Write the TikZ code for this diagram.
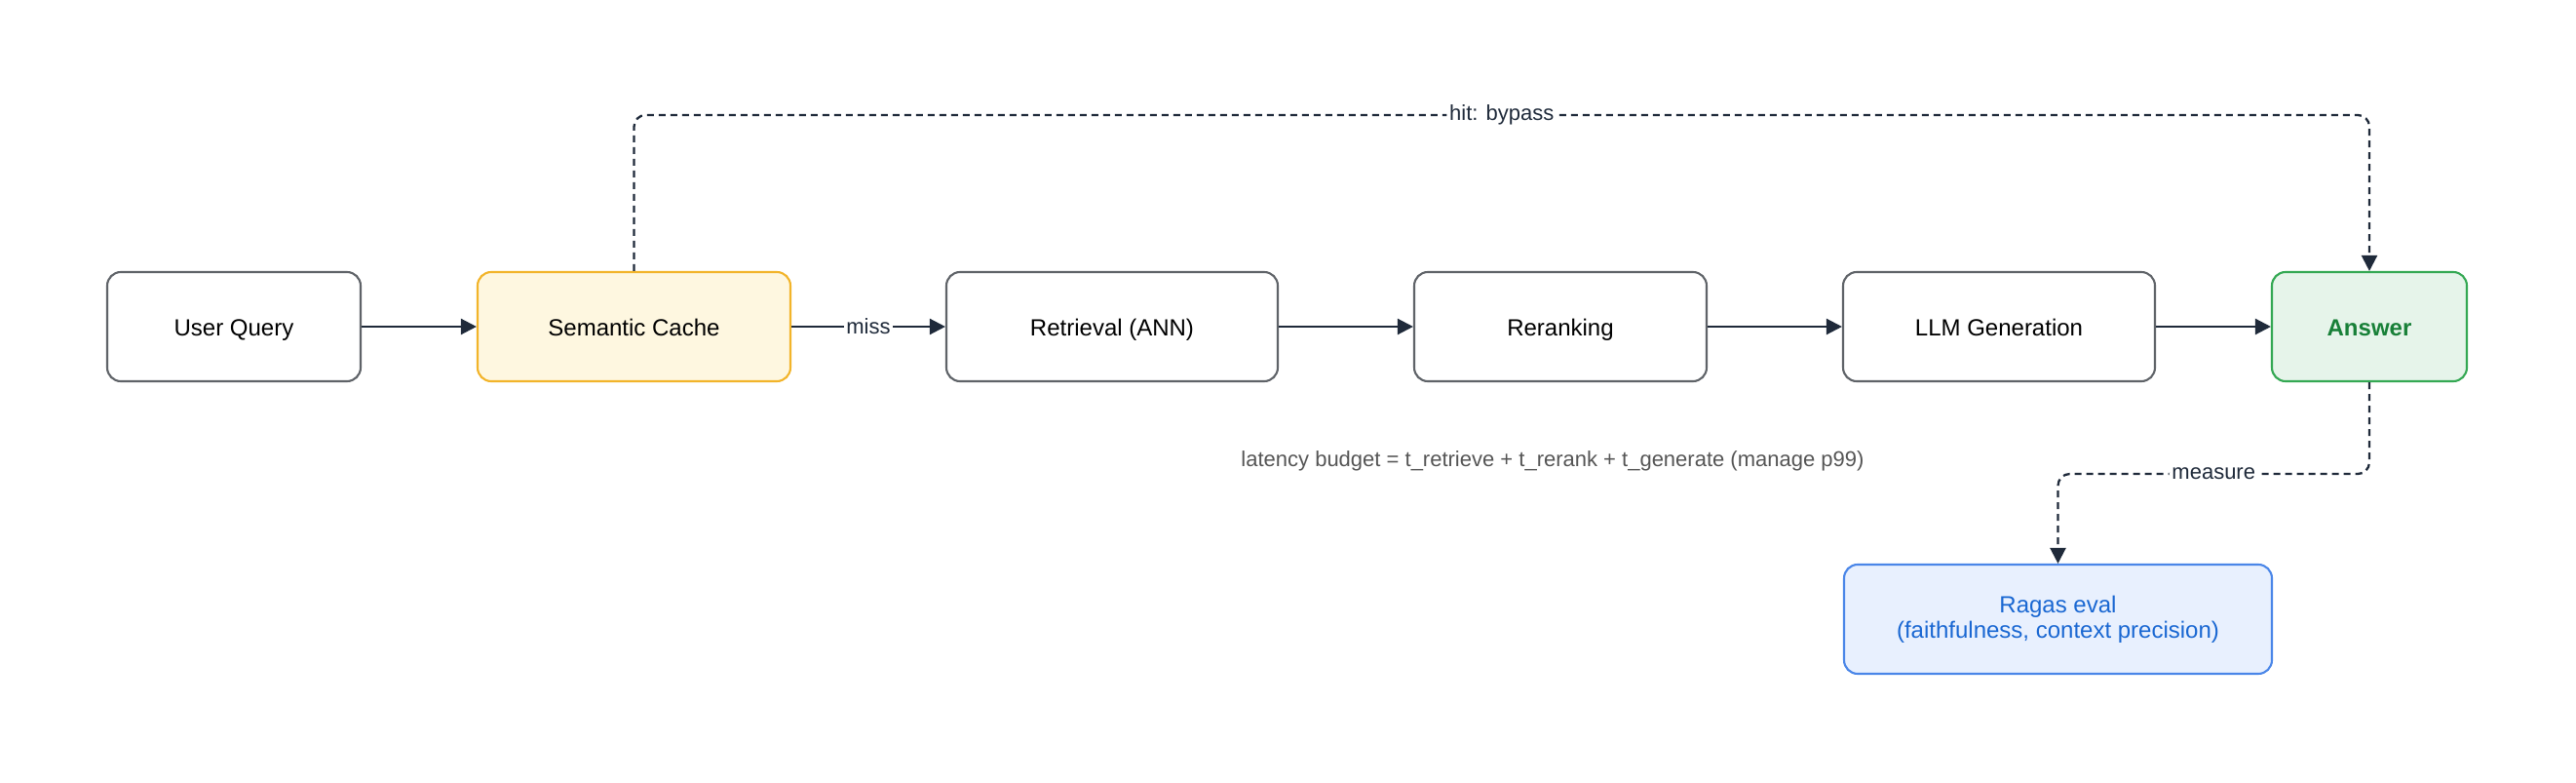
\documentclass[tikz,border=0pt]{standalone}
\usepackage{fontspec}
\setmainfont{Liberation Sans}
\usetikzlibrary{arrows.meta,positioning}
\definecolor{boxgray}{HTML}{5F6368}
\definecolor{linkdark}{HTML}{1F2A3A}
\definecolor{cachefill}{HTML}{FEF7E0}
\definecolor{cacheline}{HTML}{F2B42A}
\definecolor{answerfill}{HTML}{E6F4EA}
\definecolor{answerline}{HTML}{34A853}
\definecolor{answertext}{HTML}{188038}
\definecolor{evalfill}{HTML}{E8F0FE}
\definecolor{evalline}{HTML}{4A86E8}
\definecolor{evaltext}{HTML}{1967D2}
\definecolor{notegray}{HTML}{555555}
\begin{document}
\begin{tikzpicture}[
    stage/.style={draw=boxgray, fill=white, line width=0.6pt, rounded corners=0.14cm,
        minimum height=1.12cm, inner sep=0pt, align=center,
        font=\fontsize{6.83}{7.4}\selectfont},
    oneline/.style={stage, text height=5.5pt, text depth=0pt},
    flow/.style={-{Triangle[length=1.6mm,width=1.6mm]}, draw=linkdark, line width=0.65pt},
    skip/.style={flow, dash pattern=on 0.07cm off 0.05cm, rounded corners=0.12cm},
    linklabel/.style={fill=white, inner sep=0.8pt, text=linkdark,
        font=\fontsize{6.26}{7}\selectfont}
]
    \useasboundingbox (0,0) rectangle (26.43,8.02);

    % Pipeline stages
    \node[oneline, minimum width=2.60cm] (query) at (2.40,4.67) {User Query};
    \node[oneline, minimum width=3.21cm, draw=cacheline, fill=cachefill] (cache) at (6.505,4.67) {Semantic Cache};
    \node[oneline, minimum width=3.40cm] (retrieval) at (11.41,4.67) {Retrieval (ANN)};
    \node[oneline, minimum width=3.00cm] (rerank) at (16.01,4.67) {Reranking};
    \node[oneline, minimum width=3.20cm] (generate) at (20.51,4.67) {LLM Generation};
    \node[oneline, minimum width=2.00cm, draw=answerline, fill=answerfill,
        text=answertext, font=\fontsize{6.83}{7.4}\selectfont\bfseries] (answer) at (24.31,4.67) {Answer};

    % Evaluation
    \node[stage, minimum width=4.39cm, draw=evalline, fill=evalfill, text=evaltext] (ragas) at (21.115,1.67)
        {Ragas eval\\(faithfulness, context precision)};

    % Main flow
    \draw[flow] (query) -- (cache);
    \draw[flow] (cache) -- node[linklabel] {miss} (retrieval);
    \draw[flow] (retrieval) -- (rerank);
    \draw[flow] (rerank) -- (generate);
    \draw[flow] (generate) -- (answer);

    % Cache hit bypass
    \draw[skip] (cache.north) -- ++(0,1.60) -| node[linklabel, pos=0.25] {hit: bypass} (answer.north);

    % Measure the answer
    \draw[skip] (answer.south) -- ++(0,-0.94) -| node[linklabel, pos=0.25] {measure} (ragas.north);

    % Latency note
    \node[text=notegray, font=\fontsize{6.26}{7}\selectfont] (latency) at (15.93,3.29)
        {latency budget = t\_retrieve + t\_rerank + t\_generate (manage p99)};
\end{tikzpicture}
\end{document}
